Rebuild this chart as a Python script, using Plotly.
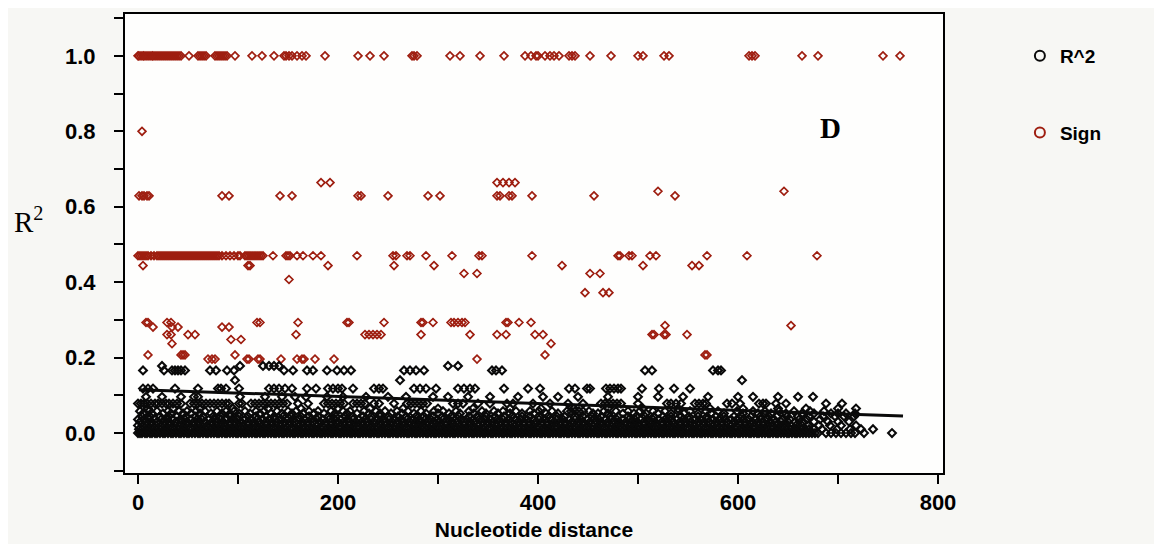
import plotly.graph_objects as go

# ---------------- data ----------------
# R^2 values (black), grouped by the discrete levels visible in the chart
r2_y_000 = 0.0
r2_x_000 = [0,2,4,7,9,12,14,17,19,22,25,27,30,33,35,38,41,43,46,49,51,54,57,60,62,65,68,70,73,76,79,81,84,87,89,92,95,98,100,103,106,108,111,114,117,119,122,125,127,130,133,136,138,141,144,146,149,152,155,157,160,163,165,168,171,174,176,179,182,184,187,190,193,195,198,201,203,206,209,212,214,217,220,222,225,228,231,233,236,239,241,244,247,250,252,255,258,260,263,266,269,271,274,277,279,282,285,288,290,293,296,298,301,304,307,309,312,315,317,320,323,326,328,331,334,336,339,342,345,347,350,353,355,358,361,364,366,369,372,374,377,380,383,385,388,391,393,396,399,402,404,407,410,412,415,418,421,423,426,429,431,434,437,440,442,445,448,450,453,456,459,461,464,467,469,472,475,478,480,483,486,488,491,494,497,499,502,505,507,510,513,516,518,521,524,526,529,532,535,537,540,543,545,548,551,554,556,559,562,564,567,570,573,575,578,581,583,586,589,592,594,597,600,602,605,608,611,613,616,619,621,624,627,630,632,635,638,640,643,646,649,651,654,657,659,662,665,668,671,674,677,680,688,693,698,703,708,713,717,726,754]
r2_y_010 = 0.01
r2_x_010 = [1,4,8,11,15,18,22,26,29,33,36,40,44,47,51,54,58,62,65,69,72,76,80,83,87,90,94,98,101,105,108,112,116,119,123,126,130,134,137,141,144,148,152,155,159,162,166,170,173,177,180,184,188,191,195,198,202,206,209,213,216,220,224,227,231,234,238,242,245,249,252,256,260,263,267,270,274,278,281,285,288,292,296,299,303,306,310,314,317,321,324,328,332,335,339,342,346,350,353,357,360,364,368,371,375,378,382,386,389,393,396,400,404,407,411,414,418,422,425,429,432,436,440,443,447,450,454,458,461,465,468,472,476,479,483,486,490,494,497,501,504,508,512,515,519,522,526,530,533,537,540,544,548,551,555,558,562,566,569,573,576,580,584,587,591,594,598,602,605,609,612,616,620,623,627,630,634,638,641,645,648,652,656,659,663,667,671,676,684,699,712,723,735]
r2_y_020 = 0.02
r2_x_020 = [0,5,9,14,18,23,27,32,37,41,46,50,55,60,64,69,73,78,82,87,92,96,101,105,110,115,119,124,128,133,138,142,147,151,156,161,165,170,174,179,184,188,193,197,202,207,211,216,220,225,230,234,239,243,248,253,257,262,266,271,276,280,285,289,294,299,303,308,312,317,322,326,331,335,340,345,349,354,358,363,368,372,377,381,386,391,395,400,404,409,414,418,423,427,432,437,441,446,450,455,460,464,469,473,478,483,487,492,496,501,506,510,515,519,524,529,533,538,542,547,552,556,561,565,570,575,579,584,588,593,598,602,607,611,616,621,625,630,634,639,644,648,653,658,664,670,681,692,703,718]
r2_y_030 = 0.03
r2_x_030 = [2,8,13,19,26,31,38,44,49,56,61,67,74,79,85,92,97,103,110,116,121,128,134,139,146,152,157,164,170,175,182,188,193,200,206,211,218,224,229,236,242,247,254,260,265,272,278,283,290,296,301,308,314,319,326,332,337,344,350,355,362,368,373,380,386,391,398,404,409,416,422,427,434,440,445,452,458,463,470,476,481,488,494,499,506,512,517,524,530,535,542,548,553,560,566,571,578,584,589,596,602,607,614,620,625,632,638,643,650,657,665,676,690,700,711]
r2_y_036 = 0.036
r2_x_036 = [0,6,11,17,23,29,35,42,47,53,59,64,71,77,83,88,95,100,107,113,119,125,131,137,143,149,155,161,167,173,179,185,191,197,203,209,215,221,227,233,239,245,251,257,263,269,275,281,287,293,299,305,311,317,323,329,335,341,347,353,359,365,371,377,383,389,395,401,407,413,419,425,431,437,443,449,455,461,467,473,479,485,491,497,503,509,515,521,527,533,539,545,551,557,563,569,575,581,587,593,599,605,611,617,623,629,636,644,652,661,669,682]
r2_y_044 = 0.044
r2_x_044 = [4,12,22,31,39,48,57,65,75,83,92,101,110,118,128,136,145,153,163,171,180,190,198,207,215,225,233,242,251,260,268,278,286,295,304,313,321,331,339,348,357,366,374,384,392,401,410,419,427,437,445,454,463,472,480,490,498,507,516,525,533,543,551,560,569,578,586,596,604,613,622,631,639,649,660,671,685,697,706,716]
r2_y_052 = 0.052
r2_x_052 = [5,14,25,33,45,53,62,73,84,92,101,112,122,133,144,154,165,176,186,197,209,219,231,242,253,264,276,288,300,311,322,336,348,360,372,384,396,408,420,455,460,470,485,496,508,520,533,546,560,573,586,605,620,633,648,664,676,693,700,708,717]
r2_y_058 = 0.058
r2_x_058 = [2,11,19,30,41,49,58,67,79,88,96,107,118,126,139,150,158,171,180,193,205,212,226,238,247,259,270,283,296,305,318,331,344,356,365,378,392,401,414,429,433,437,441,445,451,466,478,490,502,515,527,540,552,568,580,599,615,627,641,656,672,686]
r2_y_065 = 0.065
r2_x_065 = [10,35,62,95,130,163,200,232,265,300,335,372,403,436,470,505,540,572,605,640,668,700,718]
r2_y_078 = 0.078
r2_x_078 = [0,3,6,9,13,17,20,24,28,31,35,39,43,52,56,60,64,68,72,76,80,84,88,91,101,104,113,117,121,125,129,133,137,141,145,149,160,170,186,190,194,198,202,206,215,219,223,227,236,241,256,269,273,277,281,285,289,315,320,325,340,352,369,375,395,412,430,445,463,467,471,475,479,483,500,529,533,538,543,557,561,565,568,589,594,602,621,625,628,638,648,688,704]
r2_y_096 = 0.096
r2_x_096 = [8,24,43,56,60,102,127,144,157,168,189,205,228,250,268,295,310,330,352,380,405,420,440,470,500,520,545,570,600,615,640,660,675]
r2_y_118 = 0.118
r2_x_118 = [5,10,15,37,60,80,83,88,101,131,136,141,147,154,169,178,190,195,200,204,215,236,241,245,276,282,288,298,320,326,332,337,366,390,402,431,437,449,452,468,472,476,480,483,504,521,536,552]
r2_y_140 = 0.14
r2_x_140 = [97,262,604]
r2_y_166 = 0.166
r2_x_166 = [5,26,34,37,40,43,47,72,78,89,96,146,155,169,175,189,199,206,213,266,272,278,286,354,358,364,507,514,575,580,583]
r2_y_178 = 0.178
r2_x_178 = [24,102,125,131,136,141,310,320]

# "Sign" values (dark red), grouped by level
sign_y_100 = 1.0
sign_x_100 = [0,1,3,5,6,8,10,12,14,15,17,19,21,23,25,27,29,31,33,35,37,39,41,43,51,60,62,64,66,68,77,79,81,83,85,87,89,97,114,124,136,146,148,151,154,159,164,168,187,220,232,246,274,276,279,312,322,342,366,387,393,398,400,407,412,416,421,431,434,437,452,473,500,505,526,531,611,614,617,664,680,745,762]
sign_y_080 = 0.80
sign_x_080 = [4]
sign_y_066 = 0.664
sign_x_066 = [183,192,359,365,371,377]
sign_y_064 = 0.641
sign_x_064 = [520,646]
sign_y_063 = 0.629
sign_x_063 = [1,4,6,9,11,84,91,142,154,220,223,250,290,302,359,362,371,374,394,456,537]
sign_y_047 = 0.47
sign_x_047 = [0,2,4,6,8,10,13,16,19,21,23,25,27,29,31,33,35,37,39,41,43,45,47,49,51,53,55,57,59,61,63,65,67,69,71,73,75,77,79,81,84,88,92,96,100,102,107,109,111,113,115,117,119,121,123,125,135,148,150,152,159,165,175,183,219,255,258,269,272,288,314,341,344,394,480,482,491,494,512,518,569,609,679]
sign_y_044 = 0.444
sign_x_044 = [5,110,112,190,256,296,424,505,554,561]
sign_y_042 = 0.423
sign_x_042 = [326,339,452,462]
sign_y_041 = 0.407
sign_x_041 = [151]
sign_y_037 = 0.372
sign_x_037 = [447,465,471]
sign_y_029 = 0.293
sign_x_029 = [8,10,29,33,119,122,160,209,211,246,283,285,295,313,316,320,324,327,368,370,381,393]
sign_y_0285 = 0.285
sign_x_0285 = [527,653]
sign_y_028 = 0.281
sign_x_028 = [15,34,40,84,91]
sign_y_026 = 0.261
sign_x_026 = [29,33,50,57,158,227,231,235,239,243,283,332,359,368,397,405,514,516,526,528,549]
sign_y_025 = 0.248
sign_x_025 = [93,103]
sign_y_024 = 0.237
sign_x_024 = [34,413]
sign_y_021 = 0.207
sign_x_021 = [10,43,45,47,97,407,567,569]
sign_y_020 = 0.196
sign_x_020 = [70,74,77,109,111,120,122,143,159,164,166,177,196,339]

# fitted trend line for R^2
trend_x = [1, 765]
trend_y = [0.115, 0.045]

x_ticks = [0, 200, 400, 600, 800]
y_ticks = [0.0, 0.2, 0.4, 0.6, 0.8, 1.0]
y_tick_text = ["0.0", "0.2", "0.4", "0.6", "0.8", "1.0"]

# ---------------- assemble ----------------
r2_groups = [
    (r2_x_000, r2_y_000), (r2_x_010, r2_y_010), (r2_x_020, r2_y_020), (r2_x_030, r2_y_030),
    (r2_x_036, r2_y_036), (r2_x_044, r2_y_044), (r2_x_052, r2_y_052), (r2_x_058, r2_y_058),
    (r2_x_065, r2_y_065), (r2_x_078, r2_y_078), (r2_x_096, r2_y_096), (r2_x_118, r2_y_118),
    (r2_x_140, r2_y_140), (r2_x_166, r2_y_166), (r2_x_178, r2_y_178),
]
sign_groups = [
    (sign_x_100, sign_y_100), (sign_x_080, sign_y_080), (sign_x_066, sign_y_066),
    (sign_x_064, sign_y_064), (sign_x_063, sign_y_063), (sign_x_047, sign_y_047),
    (sign_x_044, sign_y_044), (sign_x_042, sign_y_042), (sign_x_041, sign_y_041),
    (sign_x_037, sign_y_037), (sign_x_029, sign_y_029), (sign_x_0285, sign_y_0285),
    (sign_x_028, sign_y_028), (sign_x_026, sign_y_026), (sign_x_025, sign_y_025),
    (sign_x_024, sign_y_024), (sign_x_021, sign_y_021), (sign_x_020, sign_y_020),
]

def flatten(groups):
    xs, ys = [], []
    for gx, gy in groups:
        xs.extend(gx)
        ys.extend([gy] * len(gx))
    return xs, ys

r2_x, r2_y = flatten(r2_groups)
sign_x, sign_y = flatten(sign_groups)

BLACK = "#0a0a0a"
RED = "#9e1e10"
SANS = "Liberation Sans, Arial, sans-serif"
SERIF = "Liberation Serif, Times New Roman, serif"

fig = go.Figure()

fig.add_trace(go.Scatter(
    x=sign_x, y=sign_y, mode="markers", showlegend=False, name="Sign",
    marker=dict(symbol="diamond-open", size=6, color=RED, line=dict(width=1.7, color=RED)),
))
fig.add_trace(go.Scatter(
    x=r2_x, y=r2_y, mode="markers", showlegend=False, name="R^2",
    marker=dict(symbol="diamond-open", size=6, color=BLACK, line=dict(width=2.1, color=BLACK)),
))
fig.add_trace(go.Scatter(
    x=trend_x, y=trend_y, mode="lines", showlegend=False,
    line=dict(color=BLACK, width=3),
))

# legend entries
fig.add_trace(go.Scatter(
    x=[None], y=[None], mode="markers", name="R^2", legendgroup="a",
    marker=dict(symbol="circle-open", size=10, color=BLACK, line=dict(width=2, color=BLACK)),
))
fig.add_trace(go.Scatter(
    x=[None], y=[None], mode="markers", name="Sign", legendgroup="b",
    marker=dict(symbol="circle-open", size=10, color=RED, line=dict(width=2, color=RED)),
))

axis_common = dict(
    showline=True, linecolor="black", linewidth=2, mirror=True,
    showgrid=False, zeroline=False,
    ticks="outside", ticklen=9, tickwidth=2, tickcolor="black",
)

fig.update_xaxes(
    range=[-13, 805], tickvals=x_ticks,
    tickfont=dict(family=SANS, size=22, color="black", weight="bold"),
    minor=dict(dtick=100, tick0=0, ticks="outside", ticklen=9, tickwidth=2, tickcolor="black"),
    title=dict(text="Nucleotide distance", standoff=8,
               font=dict(family=SANS, size=21, color="black", weight="bold")),
    **axis_common,
)
fig.update_yaxes(
    range=[-0.106, 1.111], tickvals=y_ticks, ticktext=y_tick_text,
    tickfont=dict(family=SANS, size=22, color="black", weight="bold"),
    minor=dict(dtick=0.1, tick0=0, ticks="outside", ticklen=9, tickwidth=2, tickcolor="black"),
    ticklabelstandoff=14,
    **axis_common,
)

fig.add_annotation(
    text="R<sup>2</sup>", xref="paper", yref="paper", x=-0.138, y=0.551,
    xanchor="left", yanchor="middle", showarrow=False,
    font=dict(family=SERIF, size=29, color="black"),
)
fig.add_annotation(
    text="D", xref="x", yref="y", x=692, y=0.81,
    xanchor="center", yanchor="middle", showarrow=False,
    font=dict(family=SERIF, size=29, color="black", weight="bold"),
)

fig.update_layout(
    width=1162, height=544,
    margin=dict(l=117, r=227, t=4, b=79),
    paper_bgcolor="#f7f7f4", plot_bgcolor="#fefefd",
    legend=dict(
        x=1.094, y=0.95, xanchor="left", yanchor="top",
        bgcolor="rgba(0,0,0,0)", tracegroupgap=49,
        font=dict(family=SANS, size=19, color="black", weight="bold"),
    ),
)

fig.write_html("out.html")
